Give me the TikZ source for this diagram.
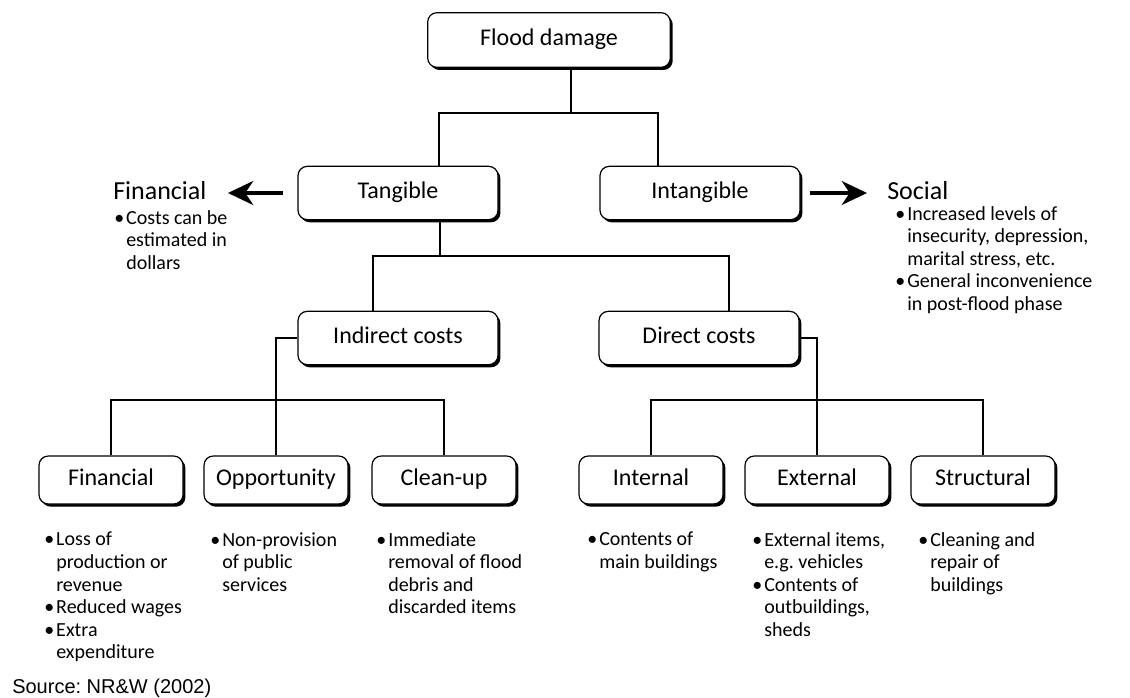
\documentclass[tikz,border=0pt]{standalone}
\usepackage{fontspec}
\setmainfont{Carlito}
\newfontfamily\srcfont{Liberation Sans}
\usetikzlibrary{arrows.meta,shadows}
\newcommand\bl{\makebox[9pt][l]{\textbullet}}
\newcommand\nb{\hspace*{9pt}}
\frenchspacing
\begin{document}
\begin{tikzpicture}[
  x=0.75pt, y=-0.75pt,
  box/.style = {shape=rectangle, rounded corners=7pt, draw, line width=0.9pt,
    fill=white, align=center, font=\fontsize{18}{20}\selectfont,
    text height=12pt, text depth=4pt,
    drop shadow={shadow xshift=1.8pt, shadow yshift=-2pt, fill=black, opacity=1}},
  topbox/.style = {box, minimum width=150pt, minimum height=40pt},
  lowbox/.style = {box, minimum width=108pt, minimum height=36pt},
  bullets/.style = {anchor=north west, inner sep=0pt, align=left,
    font=\fontsize{15}{16.9}\selectfont},
  heading/.style = {anchor=base west, inner sep=0pt, font=\fontsize{19.5}{22}\selectfont},
  link/.style = {line width=2.1pt},
  bigarrow/.style = {line width=2.3pt, -{Stealth[length=19pt, width=18pt, inset=6pt]}}
  ]
  \useasboundingbox (0,0) rectangle (1130,698);
  % boxes
  \node[box, minimum width=182pt, minimum height=41pt] (flood) at (549,40) {Flood damage};
  \node[topbox] (tan) at (398,193) {Tangible};
  \node[topbox] (intan) at (700,193) {Intangible};
  \node[topbox] (ind) at (398,338) {Indirect costs};
  \node[topbox] (dir) at (699,338) {Direct costs};
  \node[lowbox] (fin) at (111,480) {Financial};
  \node[lowbox] (opp) at (276,480) {Opportunity};
  \node[lowbox] (cln) at (444,480) {Clean-up};
  \node[lowbox] (int) at (651,480) {Internal};
  \node[lowbox] (ext) at (817,480) {External};
  \node[lowbox] (str) at (983,480) {Structural};
  % side notes
  \node[heading] (finhd) at (113,200) {Financial};
  \node[bullets] (finnote) at (114,210) {\bl Costs can be\\ \nb estimated in\\ \nb dollars};
  \node[heading] (sochd) at (887,200) {Social};
  \node[bullets] (socnote) at (895,206) {\bl Increased levels of\\ \nb insecurity, depression,\\
    \nb marital stress, etc.\\ \bl General inconvenience\\ \nb in post-flood phase};
  % lists under the boxes
  \node[bullets] (finlist) at (44,532) {\bl Loss of\\ \nb production or\\ \nb revenue\\
    \bl Reduced wages\\ \bl Extra\\ \nb expenditure};
  \node[bullets] (opplist) at (210,532) {\bl Non-provision\\ \nb of public\\ \nb services};
  \node[bullets] (clnlist) at (376,532) {\bl Immediate\\ \nb removal of flood\\ \nb debris and\\
    \nb discarded items};
  \node[bullets] (intlist) at (587,532) {\bl Contents of\\ \nb main buildings};
  \node[bullets] (extlist) at (752,532) {\bl External items,\\ \nb e.g. vehicles\\ \bl Contents of\\
    \nb outbuildings,\\ \nb sheds};
  \node[bullets] (strlist) at (918,532) {\bl Cleaning and\\ \nb repair of\\ \nb buildings};
  \node[anchor=base west, inner sep=0pt, font=\srcfont\fontsize{15}{17}\selectfont] (src)
    at (12,693) {Source: NR\&W (2002)};
  % joints
  \coordinate (j1) at (571,113);
  \coordinate (tl) at (439,113);
  \coordinate (tr) at (658,113);
  \coordinate (j2) at (440,256);
  \coordinate (il) at (373,256);
  \coordinate (ir) at (729,256);
  \coordinate (lowbar) at (0,400);
  % connectors
  \draw[link] (flood.south -| j1) -- (j1);
  \draw[link] (tan.north -| tl) |- (tr) -- (intan.north -| tr);
  \draw[link] (tan.south -| j2) -- (j2);
  \draw[link] (ind.north -| il) |- (ir) -- (dir.north -| ir);
  \draw[link] (ind.west) -| (opp.north);
  \draw[link] (fin.north) |- (lowbar -| cln.north) -- (cln.north);
  \draw[link] (dir.east) -| (ext.north);
  \draw[link] (int.north) |- (lowbar -| str.north) -- (str.north);
  \draw[bigarrow, shorten <=11pt, shorten >=16pt] (tan.west) -- (finhd.east |- tan.west);
  \draw[bigarrow, shorten <=7pt, shorten >=15pt] (intan.east) -- (sochd.west |- intan.east);
\end{tikzpicture}
\end{document}
